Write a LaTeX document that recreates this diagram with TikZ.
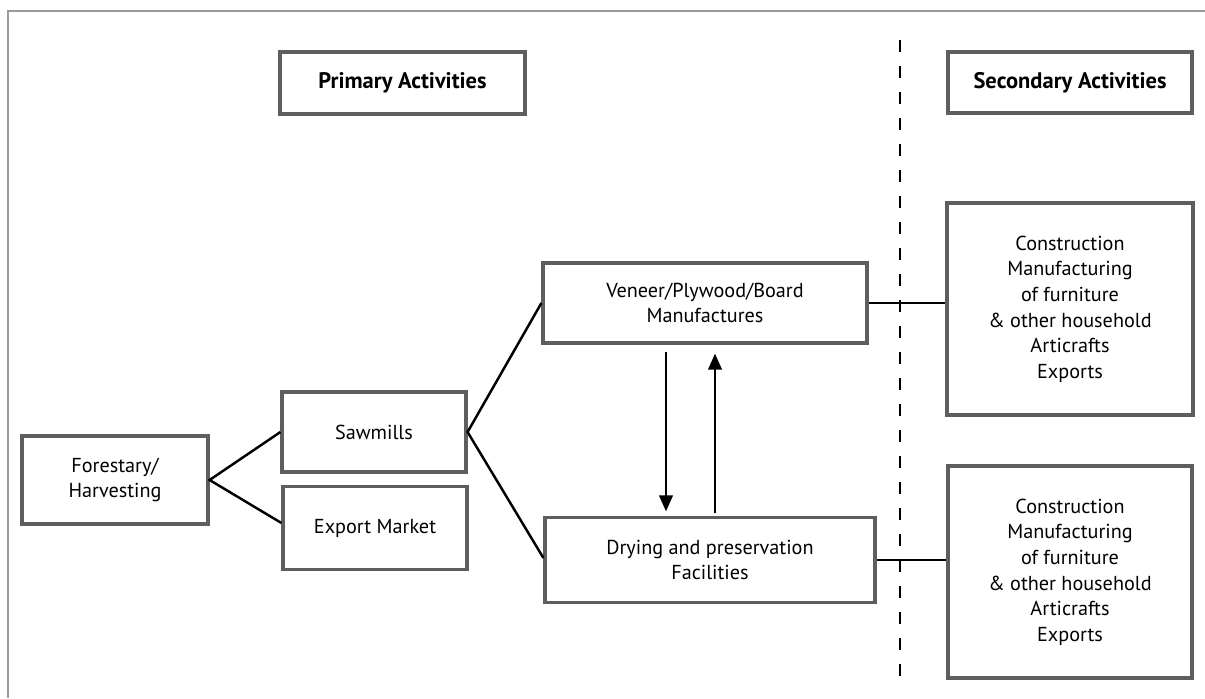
\documentclass[tikz,border=0pt]{standalone}
\usepackage{fontspec}
\setmainfont{PT Sans}
\usetikzlibrary{arrows.meta}
\definecolor{boxgray}{HTML}{5E5E5E}
\definecolor{framegray}{HTML}{9A9A9A}

\begin{document}
\begin{tikzpicture}[
  box/.style={draw=boxgray, line width=1.8pt, align=center, inner sep=0pt,
    font=\fontsize{11.5}{14.6}\selectfont},
  headbox/.style={box, font=\fontsize{12.8}{15}\selectfont\bfseries},
  link/.style={line width=1.4pt},
  arr/.style={line width=1.4pt, -{Triangle[length=0.32cm, width=0.27cm]}}
]
  \useasboundingbox (0,0) rectangle (24.1,13.96);

  % Outer frame (top and left only)
  \draw[framegray, line width=1.7pt] (0.16,0) -- (0.16,13.74) -- (24.1,13.74);

  % Column headings
  \node[headbox, minimum width=4.9cm, minimum height=1.24cm] (primary) at (8.05,12.30) {Primary Activities};
  \node[headbox, minimum width=4.88cm, minimum height=1.22cm] (secondary) at (21.4,12.31) {Secondary Activities};

  % Dividing line
  \draw[line width=1.5pt, dash pattern=on 0.24cm off 0.28cm] (18.0,13.16) -- (18.0,0.36);

  % Primary chain
  \node[box, minimum width=3.72cm, minimum height=1.76cm] (forest) at (2.30,4.36) {Forestary/\\Harvesting};
  \node[box, minimum width=3.68cm, minimum height=1.6cm] (sawmills) at (7.48,5.32) {Sawmills};
  \node[box, minimum width=3.68cm, minimum height=1.66cm] (export) at (7.50,3.40) {Export Market};
  \node[box, minimum width=6.48cm, minimum height=1.6cm] (veneer) at (14.10,7.90) {Veneer/Plywood/Board\\Manufactures};
  \node[box, minimum width=6.6cm, minimum height=1.7cm] (drying) at (14.20,2.76) {Drying and preservation\\Facilities};

  % Secondary activities
  \node[box, minimum width=4.92cm, minimum height=4.24cm] (sectop) at (21.40,7.78)
    {Construction\\Manufacturing\\of furniture\\\& other household\\Articrafts\\Exports};
  \node[box, minimum width=4.88cm, minimum height=4.24cm] (secbot) at (21.40,2.52)
    {Construction\\Manufacturing\\of furniture\\\& other household\\Articrafts\\Exports};

  % Branches
  \draw[link] (sawmills.west) -- (forest.east) -- ([yshift=0.1cm]export.west);
  \draw[link] (veneer.west) -- (sawmills.east) -- ([yshift=0.04cm]drying.west);
  \draw[link] (veneer.east) -- (veneer.east -| sectop.west);
  \draw[link] (drying.east) -- (drying.east -| secbot.west);

  % Flow between veneer and drying
  \draw[arr] ([xshift=-0.78cm,yshift=-0.14cm]veneer.south) -- ([xshift=-0.78cm,yshift=0.09cm]veneer.south |- drying.north);
  \draw[arr] ([xshift=0.2cm,yshift=0.05cm]veneer.south |- drying.north) -- ([xshift=0.2cm,yshift=-0.18cm]veneer.south);
\end{tikzpicture}
\end{document}
